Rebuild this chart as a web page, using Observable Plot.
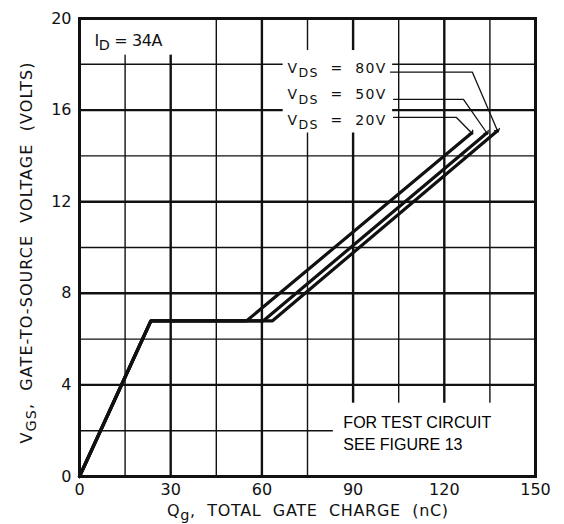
<!DOCTYPE html>
<html>
<head>
<meta charset="utf-8">
<script src="https://cdn.jsdelivr.net/npm/d3@7"></script>
<script src="https://cdn.jsdelivr.net/npm/@observablehq/plot@0.6"></script>
<style>
  html, body { margin: 0; padding: 0; background: #fff; }
  svg text { white-space: pre; }
</style>
</head>
<body>
<div id="chart"></div>
<script>
// ---- axis ticks / grid ----
const xTicks = [0, 30, 60, 90, 120, 150];
const yTicks = [0, 4, 8, 12, 16, 20];
const xMajorGrid = [30, 60, 90, 120];
const xMinorGrid = [15, 45, 75, 105, 135];
const yMajorGrid = [4, 8, 12, 16];
const yMinorGrid = [2, 6, 10, 14, 18];

// ---- gate charge curves (Qg nC, VGS V) ----
const seriesNames = ["V_{DS}  =  20V", "V_{DS}  =  50V", "V_{DS}  =  80V"];
const qg20 = [0, 23.5, 55.0, 129.0];
const vgs20 = [0, 6.8, 6.8, 15.0];
const qg50 = [0, 23.5, 60.5, 134.0];
const vgs50 = [0, 6.8, 6.8, 15.0];
const qg80 = [0, 23.5, 63.5, 137.5];
const vgs80 = [0, 6.8, 6.8, 15.1];

// ---- label leaders (data units) ----
const leadQ20 = [103.3, 124.0, 129.0];
const leadV20 = [15.68, 15.68, 15.0];
const leadQ50 = [103.3, 126.3, 134.0];
const leadV50 = [16.47, 16.47, 15.0];
const leadQ80 = [102.3, 129.2, 137.5];
const leadV80 = [17.66, 17.66, 15.1];

// ---- label anchors (data units) ----
const labelQ = [68.4, 68.4, 68.4];
const labelV = [15.55, 16.67, 17.82];

// ---- white annotation boxes (data units) ----
const boxQ1 = [0, 67, 83.5];
const boxQ2 = [38, 103, 150];
const boxV1 = [18.4, 15.0, 0];
const boxV2 = [20, 18.6, 3.2];

// ---- texts ----
const idLabel = "I_{D} = 34A";
const noteLines = ["FOR TEST CIRCUIT", "SEE FIGURE 13"];
const noteQ = [86.8, 86.8];
const noteV = [2.34, 1.40];
const xTitle = "Q_{g},  TOTAL  GATE  CHARGE  (nC)";
const yTitle = "V_{GS},  GATE-TO-SOURCE  VOLTAGE  (VOLTS)";

// build tables
const curves = [
  ...qg20.map((q, i) => ({s: seriesNames[0], q, v: vgs20[i]})),
  ...qg50.map((q, i) => ({s: seriesNames[1], q, v: vgs50[i]})),
  ...qg80.map((q, i) => ({s: seriesNames[2], q, v: vgs80[i]}))
];
const leaders = [
  ...leadQ20.map((q, i) => ({s: seriesNames[0], q, v: leadV20[i]})),
  ...leadQ50.map((q, i) => ({s: seriesNames[1], q, v: leadV50[i]})),
  ...leadQ80.map((q, i) => ({s: seriesNames[2], q, v: leadV80[i]}))
];
const labels = seriesNames.map((s, i) => ({s, q: labelQ[i], v: labelV[i]}));
const boxes = boxQ1.map((q1, i) => ({q1, q2: boxQ2[i], v1: boxV1[i], v2: boxV2[i]}));
const notes = noteLines.map((t, i) => ({t, q: noteQ[i], v: noteV[i]}));

const ink = "#111";

const svg = Plot.plot({
  width: 564,
  height: 524,
  marginLeft: 79,
  marginRight: 29,
  marginTop: 18,
  marginBottom: 48,
  x: {domain: [0, 150]},
  y: {domain: [0, 20]},
  style: {fontFamily: "DejaVu Sans", fontSize: "16px", color: ink, background: "#fff"},
  marks: [
    Plot.ruleX(xMinorGrid, {stroke: ink, strokeWidth: 1.4}),
    Plot.ruleX(xMajorGrid, {stroke: ink, strokeWidth: 2.4}),
    Plot.ruleY(yMinorGrid, {stroke: ink, strokeWidth: 1.4}),
    Plot.ruleY(yMajorGrid, {stroke: ink, strokeWidth: 2.4}),
    Plot.rect(boxes, {x1: "q1", x2: "q2", y1: "v1", y2: "v2", fill: "#fff"}),
    Plot.line(curves, {x: "q", y: "v", z: "s", stroke: ink, strokeWidth: 3.2, strokeLinejoin: "miter"}),
    Plot.line(leaders, {x: "q", y: "v", z: "s", stroke: ink, strokeWidth: 1.3, markerEnd: "arrow", strokeLinejoin: "miter"}),
    Plot.text(labels, {x: "q", y: "v", text: "s", textAnchor: "start", lineAnchor: "middle", fontSize: 14, fill: ink}),
    Plot.text([idLabel], {frameAnchor: "top-left", dx: 15, dy: 22, text: d => d, textAnchor: "start", lineAnchor: "middle", fontSize: 16, fill: ink}),
    Plot.text(notes, {x: "q", y: "v", text: "t", textAnchor: "start", lineAnchor: "middle", fontSize: 16, fontFamily: "Liberation Sans", fill: "#000"}),
    Plot.frame({stroke: ink, strokeWidth: 3}),
    Plot.axisX({ticks: xTicks, tickSize: 0, tickPadding: 7, label: null, fontSize: 16}),
    Plot.axisY({ticks: yTicks, tickSize: 0, tickPadding: 8, label: null, fontSize: 16}),
    Plot.text([xTitle], {frameAnchor: "bottom", dy: 34, text: d => d, textAnchor: "middle", lineAnchor: "middle", fontSize: 16, fill: ink}),
    Plot.text([yTitle], {frameAnchor: "left", dx: -53, dy: 5.5, rotate: -90, text: d => d, textAnchor: "middle", lineAnchor: "middle", fontSize: 16, fill: ink})
  ]
});

// subscripts & fitted lengths
const textLengths = new Map([
  [xTitle, 281], [yTitle, 381], [idLabel, 68],
  [seriesNames[0], 98], [seriesNames[1], 98], [seriesNames[2], 98]
]);
const NS = "http://www.w3.org/2000/svg";
d3.select(svg).selectAll("text").each(function () {
  const raw = this.textContent;
  if (raw.includes("_{")) {
    const parts = raw.split(/(_\{[^}]*\})/);
    this.textContent = "";
    let shifted = false;
    for (const p of parts) {
      if (!p) continue;
      const ts = document.createElementNS(NS, "tspan");
      if (p.startsWith("_{")) {
        ts.textContent = p.slice(2, -1);
        ts.setAttribute("dy", "4.5");
        ts.setAttribute("font-size", "0.9em");
        shifted = true;
      } else {
        ts.textContent = p;
        if (shifted) { ts.setAttribute("dy", "-4.5"); shifted = false; }
      }
      this.appendChild(ts);
    }
  }
  if (textLengths.has(raw)) {
    this.setAttribute("textLength", textLengths.get(raw));
    this.setAttribute("lengthAdjust", "spacing");
  }
});

document.getElementById("chart").appendChild(svg);
</script>
</body>
</html>
